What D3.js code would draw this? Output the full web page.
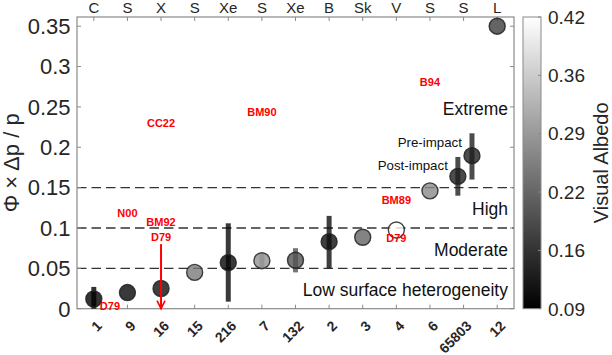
<!DOCTYPE html>
<html><head><meta charset="utf-8">
<script src="https://cdn.jsdelivr.net/npm/d3@7"></script>
<style>
html,body{margin:0;padding:0;background:#fff;}
svg{display:block;font-family:"Liberation Sans",Arial,Helvetica,sans-serif;}
</style></head>
<body><svg id="c" width="612" height="355"></svg>
<script>
// ---- data ----
const asteroids = ["1","9","16","15","216","7","132","2","3","4","6","65803","12"];
const taxonomy  = ["C","S","X","S","Xe","S","Xe","B","Sk","V","S","S","L"];
const yTicks = [0,0.05,0.1,0.15,0.2,0.25,0.3,0.35];
const yTickLabels = ["0","0.05","0.1","0.15","0.2","0.25","0.3","0.35"];
const thresholds = [0.05,0.1,0.15];

const pointAsteroid = ["1","9","16","15","216","7","132","2","3","4","6","65803","65803","12"];
const pointShift    = [0,0,0,0,0,0,0,0,0,0,0,-0.17,0.25,0];
const pointValue    = [0.012,0.020,0.025,0.045,0.057,0.0595,0.060,0.083,0.0885,0.0975,0.146,0.164,0.1896,0.350];
const errLow        = [0,null,null,null,0.0087,0.050,0.045,0.050,null,null,null,0.140,0.160,null];
const errHigh       = [0.027,null,null,null,0.1058,0.068,0.075,0.115,null,null,null,0.188,0.2173,null];
const albedo        = [0.09,0.10,0.11,0.25,0.10,0.28,0.20,0.11,0.22,0.4228,0.27,0.13,0.13,0.17];

const albedoRange = [0.09,0.4228];
const albedoTickLabels = ["0.09","0.16","0.22","0.29","0.36","0.42"];

const refLabel    = ["CC22","BM90","B94","N00","BM92","D79","BM89","D79","D79"];
const refAsteroid = ["16","7","6","9","16","16","4","4","1"];
const refValue    = [0.2305,0.244,0.281,0.119,0.108,0.0885,0.1347,0.0872,0.0033];
const refShift    = [0,0,0,0,0,0,0,0,0.48];
const arrowAsteroid = "16", arrowFrom = 0.080, arrowTo = 0;

const regionLabels = ["Extreme","High","Moderate","Low surface heterogeneity"];
const regionValue  = [0.240,0.116,0.0653,0.0157];

// ---- layout ----
const L=77,R=514,T=17,B=308.7;
const svg=d3.select("#c");
const x=d3.scaleLinear().domain([0.5,13.5]).range([L,R]);
const y=d3.scaleLinear().domain([0,0.3614]).range([B,T]);
const pos=a=>asteroids.indexOf(a)+1;
const cmap=d3.scaleLinear().domain(albedoRange).range([0,1]).clamp(true);
const gray=v=>{const g=Math.round(255*cmap(v));return `rgb(${g},${g},${g})`;};
const axisCol="#8a8a8a", txt="#262626";

// thresholds dashed
svg.append("g").selectAll("line").data(thresholds).join("line")
 .attr("x1",L).attr("x2",R).attr("y1",d=>y(d)).attr("y2",d=>y(d))
 .attr("stroke","#333").attr("stroke-width",1.4).attr("stroke-dasharray","9.5,5");

// axes box
svg.append("rect").attr("x",L).attr("y",T).attr("width",R-L).attr("height",B-T)
 .attr("fill","none").attr("stroke",axisCol).attr("stroke-width",1.2);
const gx=svg.append("g");
asteroids.forEach((a,i)=>{
  const xx=x(i+1);
  gx.append("line").attr("x1",xx).attr("x2",xx).attr("y1",B).attr("y2",B-4).attr("stroke",axisCol);
  gx.append("line").attr("x1",xx).attr("x2",xx).attr("y1",T).attr("y2",T+4).attr("stroke",axisCol);
  gx.append("text").attr("transform",`translate(${xx+9},${B+18}) rotate(-45)`)
    .attr("text-anchor","end").attr("font-size",14).attr("font-weight","bold").attr("fill",txt).text(a);
  gx.append("text").attr("x",xx).attr("y",12.5).attr("text-anchor","middle")
    .attr("font-size",15).attr("fill",txt).text(taxonomy[i]);
});
yTicks.forEach((t,i)=>{
  const yy=y(t);
  gx.append("line").attr("x1",L).attr("x2",L+4).attr("y1",yy).attr("y2",yy).attr("stroke",axisCol);
  gx.append("line").attr("x1",R).attr("x2",R-4).attr("y1",yy).attr("y2",yy).attr("stroke",axisCol);
  gx.append("text").attr("x",70.5).attr("y",yy+7.8).attr("text-anchor","end")
    .attr("font-size",22).attr("fill",txt).text(yTickLabels[i]);
});
svg.append("text").attr("transform",`translate(19,${(T+B)/2}) rotate(-90)`)
 .attr("text-anchor","middle").attr("font-size",22).attr("fill",txt).text("Φ × Δp / p");

// error bars
const pts=pointAsteroid.map((a,i)=>({x:pos(a)+pointShift[i],v:pointValue[i],lo:errLow[i],hi:errHigh[i],al:albedo[i]}));
svg.append("g").selectAll("line").data(pts.filter(d=>d.lo!==null)).join("line")
 .attr("x1",d=>x(d.x)).attr("x2",d=>x(d.x)).attr("y1",d=>y(d.lo)).attr("y2",d=>y(d.hi))
 .attr("stroke",d=>gray(d.al)).attr("stroke-opacity",0.8).attr("stroke-width",5);
// points
svg.append("g").selectAll("circle").data(pts).join("circle")
 .attr("cx",d=>x(d.x)).attr("cy",d=>y(d.v)).attr("r",8)
 .attr("fill",d=>gray(d.al)).attr("fill-opacity",0.8)
 .attr("stroke","#222").attr("stroke-opacity",0.85).attr("stroke-width",1.4);

// arrow
const ax=x(pos(arrowAsteroid));
svg.append("line").attr("x1",ax).attr("x2",ax).attr("y1",y(arrowFrom)).attr("y2",y(arrowTo))
 .attr("stroke","red").attr("stroke-width",2);
svg.append("path").attr("d",`M${ax-4},${y(arrowTo)-8}L${ax},${y(arrowTo)}L${ax+4},${y(arrowTo)-8}`)
 .attr("fill","none").attr("stroke","red").attr("stroke-width",1.6);

// reference labels
refLabel.forEach((t,i)=>{
  svg.append("text").attr("x",x(pos(refAsteroid[i])+refShift[i])).attr("y",y(refValue[i])+4)
   .attr("text-anchor","middle").attr("font-size",11).attr("font-weight","bold").attr("fill","#ff0000").text(t);
});

// region labels
regionLabels.forEach((t,i)=>{
  svg.append("text").attr("x",508).attr("y",y(regionValue[i])).attr("text-anchor","end")
   .attr("font-size",17.5).attr("fill","#111").text(t);
});
// Didymos labels
const post=pts[11], pre=pts[12];
svg.append("text").attr("x",x(pre.x)-10).attr("y",y(pre.v)-8.7).attr("text-anchor","end")
 .attr("font-size",13.3).attr("fill","#111").text("Pre-impact");
svg.append("text").attr("x",x(post.x)-10).attr("y",y(post.v)-6).attr("text-anchor","end")
 .attr("font-size",13.3).attr("fill","#111").text("Post-impact");

// colorbar
const cbX=523,cbW=18;
const defs=svg.append("defs");
const grad=defs.append("linearGradient").attr("id","g").attr("x1",0).attr("y1",1).attr("x2",0).attr("y2",0);
grad.append("stop").attr("offset",0).attr("stop-color","#000");
grad.append("stop").attr("offset",1).attr("stop-color","#fff");
svg.append("rect").attr("x",cbX).attr("y",T).attr("width",cbW).attr("height",B-T)
 .attr("fill","url(#g)").attr("stroke",axisCol).attr("stroke-width",1);
const cy=d3.scaleLinear().domain(albedoRange).range([B,T]);
albedoTickLabels.forEach((t,i)=>{
  const v=albedoRange[0]+i*(albedoRange[1]-albedoRange[0])/(albedoTickLabels.length-1);
  const yy=cy(v);
  svg.append("line").attr("x1",cbX+cbW).attr("x2",cbX+cbW-3).attr("y1",yy).attr("y2",yy).attr("stroke",axisCol);
  svg.append("text").attr("x",548).attr("y",yy+6.8).attr("font-size",19).attr("fill",txt).text(t);
});
svg.append("text").attr("transform",`translate(607.5,${(T+B)/2}) rotate(-90)`)
 .attr("text-anchor","middle").attr("font-size",20).attr("fill",txt).text("Visual Albedo");
</script></body></html>
